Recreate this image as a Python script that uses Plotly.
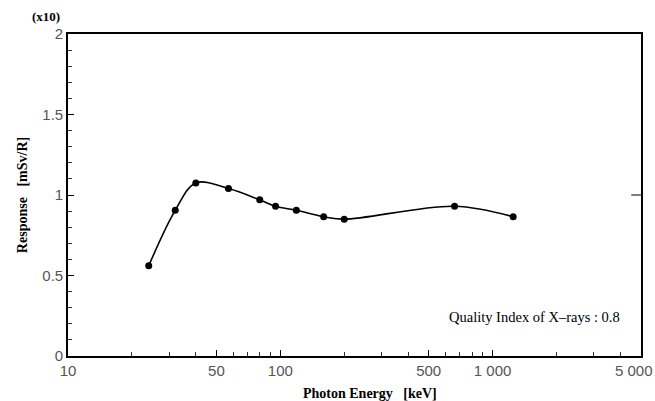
import plotly.graph_objects as go

# Data
energy_kev = [24, 32, 40, 57, 80, 95, 119, 160, 200, 662, 1250]
response = [0.56, 0.905, 1.075, 1.04, 0.97, 0.93, 0.905, 0.865, 0.85, 0.93, 0.865]

x_major_vals = [10, 50, 100, 500, 1000, 5000]
x_major_text = ["10", "50", "100", "500", "1 000", ""]
x_last_label = "5 000"
x_minor_vals = [20, 30, 40, 60, 70, 80, 90, 200, 300, 400, 600, 700, 800, 900, 2000, 3000, 4000]
y_major_vals = [0, 0.5, 1, 1.5, 2]
y_major_text = ["0", "0.5", "1", "1.5", "2"]

fig = go.Figure()
fig.add_trace(go.Scatter(
    x=energy_kev, y=response, mode="lines+markers",
    line=dict(color="black", width=1.6, shape="spline", smoothing=1.0),
    marker=dict(color="black", size=7),
    showlegend=False,
))

tick_font = dict(family="Liberation Sans, Arial, sans-serif", size=15, color="#555555")
title_font = dict(family="Liberation Serif, Times New Roman, serif", size=14, color="black")

fig.update_layout(
    width=655, height=401,
    margin=dict(l=68, r=14, t=34, b=45),
    paper_bgcolor="white", plot_bgcolor="white",
    xaxis=dict(
        type="log", range=[1, 3.69897], automargin=False,
        tickmode="array", tickvals=x_major_vals, ticktext=x_major_text,
        ticks="inside", ticklen=6, tickwidth=1, tickcolor="black",
        minor=dict(tickmode="array", tickvals=x_minor_vals, ticks="inside",
                   ticklen=4, tickwidth=1, tickcolor="#333", showgrid=False),
        showgrid=False, zeroline=False,
        showline=True, linecolor="black", linewidth=1.6, mirror=True,
        tickfont=tick_font,
    ),
    yaxis=dict(
        range=[0, 2], automargin=False,
        tickmode="array", tickvals=y_major_vals, ticktext=y_major_text,
        ticks="inside", ticklen=6, tickwidth=1, tickcolor="black",
        minor=dict(dtick=0.1, ticks="inside", ticklen=4, tickwidth=1,
                   tickcolor="#333", showgrid=False),
        showgrid=False, zeroline=False,
        showline=True, linecolor="black", linewidth=1.6, mirror=True,
        tickfont=tick_font,
        title=dict(text="<b>Response&nbsp;&nbsp; [mSv/R]</b>", font=title_font, standoff=11),
    ),
    annotations=[
        dict(text="<b>(x10)</b>", xref="paper", yref="paper", x=-0.01, y=1.025,
             xanchor="right", yanchor="bottom", showarrow=False,
             font=dict(family="Liberation Serif, serif", size=13, color="black")),
        dict(text="Quality Index of X\u2013rays : 0.8", xref="paper", yref="paper",
             x=0.967, y=0.12, xanchor="right", yanchor="middle", showarrow=False,
             font=dict(family="Liberation Serif, serif", size=14.5, color="black")),
        dict(text=x_last_label, xref="paper", yref="paper", x=1, y=0,
             xanchor="right", yanchor="top", xshift=14, yshift=-4, showarrow=False,
             font=tick_font),
        dict(text="<b>Photon Energy&nbsp;&nbsp; [keV]</b>", xref="paper", yref="paper",
             x=0.527, y=0, xanchor="center", yanchor="top", yshift=-28, showarrow=False,
             font=title_font),
    ],
    shapes=[
        dict(type="line", xref="paper", yref="y", x0=1, x1=0.983, y0=1, y1=1,
             line=dict(color="black", width=1)),
    ],
)

fig.write_html("out.html")
